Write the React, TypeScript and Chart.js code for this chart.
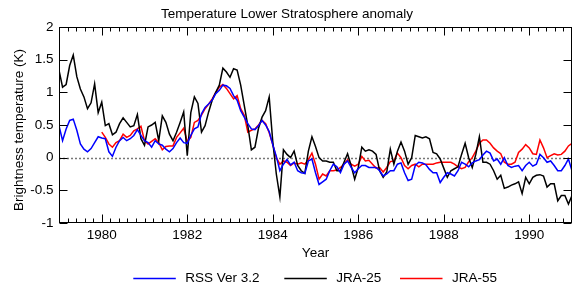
import React, { useEffect, useRef } from 'react';
import { Chart, registerables } from 'chart.js';

Chart.register(...registerables);

// ---------------- data ----------------
const START_YEAR = 1979;
const X_MIN = 1979;
const X_MAX = 1991;
const X_TICK_LABELS = [1980, 1982, 1984, 1986, 1988, 1990];
const X_MINOR_STEP = 0.2;
const Y_TICKS = [-1, -0.5, 0, 0.5, 1, 1.5, 2];

const SERIES_NAMES = ['RSS Ver 3.2', 'JRA-25', 'JRA-55'];
const SERIES_COLORS = ['#0000ff', '#000000', '#ff0000'];

// monthly anomalies, Jan 1979 .. Jan 1991
const rss = [
  0.49, 0.26, 0.44, 0.57, 0.59, 0.42, 0.21, 0.13, 0.09, 0.14,
  0.23, 0.32, 0.30, 0.29, 0.09, 0.02, 0.16, 0.26, 0.31, 0.26,
  0.29, 0.34, 0.43, 0.34, 0.26, 0.23, 0.16, 0.26, 0.21, 0.19,
  0.13, 0.09, 0.14, 0.23, 0.30, 0.23, 0.22, 0.34, 0.44, 0.47,
  0.67, 0.77, 0.82, 0.88, 0.98, 1.03, 1.11, 1.10, 1.06, 0.95,
  0.88, 0.72, 0.62, 0.52, 0.44, 0.43, 0.49, 0.57, 0.50, 0.40,
  0.20, 0.02, -0.20, -0.10, -0.03, -0.11, -0.07, -0.20, -0.23, -0.24,
  -0.05, -0.02, -0.23, -0.41, -0.37, -0.33, -0.20, -0.10, -0.14, -0.23,
  -0.10, -0.05, -0.15, -0.23, -0.17, -0.12, -0.12, -0.15, -0.15, -0.15,
  -0.20, -0.28, -0.25, -0.20, -0.20, -0.10, -0.08, -0.23, -0.35, -0.33,
  -0.12, -0.07, -0.08, -0.11, -0.18, -0.23, -0.23, -0.38, -0.30, -0.23,
  -0.25, -0.28, -0.20, -0.07, -0.10, -0.14, -0.08, -0.05, -0.03, 0.04,
  0.10, 0.07, -0.05, -0.02, -0.10, 0.00, -0.12, -0.15, -0.13, -0.12,
  -0.20, -0.12, -0.07, -0.13, -0.10, 0.05, 0.00, -0.07, -0.05, -0.12,
  -0.20, -0.20, -0.12, -0.02, -0.20,
];

const jra25 = [
  1.34, 1.08, 1.12, 1.41, 1.57, 1.24, 1.05, 0.93, 0.75, 0.84,
  1.13, 0.69, 0.85, 0.49, 0.52, 0.35, 0.39, 0.52, 0.61, 0.54,
  0.47, 0.49, 0.66, 0.29, 0.19, 0.47, 0.50, 0.54, 0.26, 0.64,
  0.54, 0.36, 0.26, 0.39, 0.54, 0.70, 0.03, 0.69, 0.93, 0.83,
  0.39, 0.49, 0.70, 0.88, 1.00, 1.11, 1.37, 1.31, 1.23, 1.36,
  1.34, 1.11, 0.80, 0.49, 0.12, 0.16, 0.45, 0.62, 0.72, 0.93,
  0.25, -0.25, -0.60, 0.12, 0.05, 0.00, 0.10, -0.12, -0.20, -0.24,
  0.10, 0.32, 0.17, 0.00, -0.05, -0.05, -0.07, -0.07, -0.20, -0.20,
  -0.07, 0.06, -0.12, -0.33, -0.15, 0.16, 0.10, 0.12, 0.10, 0.05,
  -0.20, -0.30, -0.22, 0.13, -0.10, 0.10, 0.24, 0.10, -0.10, 0.00,
  0.34, 0.32, 0.30, 0.32, 0.29, 0.08, 0.06, -0.02, -0.16, -0.30,
  -0.20, -0.17, -0.14, 0.05, 0.22, 0.00, -0.15, 0.05, 0.32, -0.07,
  -0.07, -0.10, -0.20, -0.33, -0.27, -0.47, -0.45, -0.42, -0.40, -0.37,
  -0.55, -0.30, -0.40, -0.30, -0.27, -0.26, -0.28, -0.45, -0.40, -0.40,
  -0.66, -0.58, -0.58, -0.71, -0.58,
];

const jra55 = [
  null, null, null, null, null, null, null, null, null, null,
  null, null, 0.39, 0.31, 0.21, 0.16, 0.23, 0.26, 0.36, 0.31,
  0.34, 0.41, 0.44, 0.48, 0.26, 0.21, 0.25, 0.29, 0.23, 0.12,
  0.17, 0.18, 0.18, 0.31, 0.38, 0.45, 0.25, 0.31, 0.54, 0.57,
  0.65, 0.75, 0.82, 0.90, 1.00, 1.08, 1.12, 1.06, 0.98, 0.90,
  0.95, 0.75, 0.65, 0.39, 0.42, 0.44, 0.50, 0.57, 0.52, 0.38,
  0.20, 0.00, -0.10, -0.05, -0.07, -0.12, -0.08, -0.10, -0.08, -0.10,
  -0.03, 0.07, -0.10, -0.33, -0.25, -0.28, -0.20, -0.20, -0.19, -0.15,
  -0.10, -0.03, -0.10, -0.13, -0.10, 0.02, -0.05, -0.04, -0.10, -0.16,
  -0.15, -0.22, -0.15, -0.06, -0.05, 0.07, 0.00, -0.12, -0.17, -0.12,
  -0.10, -0.14, -0.10, -0.10, -0.10, -0.10, -0.08, -0.07, -0.07, -0.07,
  -0.07, -0.10, -0.14, -0.17, -0.15, -0.06, 0.00, 0.10, 0.22, 0.27,
  0.27, 0.22, 0.15, 0.10, 0.06, -0.07, -0.10, -0.10, -0.07, 0.08,
  0.13, 0.20, 0.15, 0.06, 0.05, 0.27, 0.15, 0.00, 0.03, 0.06,
  0.04, 0.05, 0.10, 0.18, 0.22,
];

const monthTimes = rss.map((_, i) => START_YEAR + i / 12);

// ---------------- styling ----------------
const FONT = '"Liberation Sans", Arial, Helvetica, sans-serif';
const FS = 13.5;

const toPoints = (vals: (number | null)[]) =>
  vals.map((v, i) => ({ x: monthTimes[i], y: v }));

const decorPlugin = {
  id: 'decor',
  beforeDatasetsDraw(chart: any) {
    const { ctx, chartArea: a, scales } = chart;
    const y0 = Math.round(scales.y.getPixelForValue(0)) + 0.5;
    ctx.save();
    ctx.strokeStyle = '#777777';
    ctx.lineWidth = 1.5;
    ctx.setLineDash([2, 2]);
    ctx.beginPath();
    ctx.moveTo(a.left, y0);
    ctx.lineTo(a.right, y0);
    ctx.stroke();
    ctx.restore();
  },
  afterDatasetsDraw(chart: any) {
    const { ctx, chartArea: a, scales } = chart;
    const L = a.left + 0.5, R = a.right - 0.5, T = a.top + 0.5, B = a.bottom - 0.5;
    ctx.save();
    ctx.strokeStyle = '#000';
    ctx.lineWidth = 1;
    ctx.setLineDash([]);
    ctx.strokeRect(L, T, R - L, B - T);
    ctx.beginPath();
    const n = Math.round((X_MAX - X_MIN) / X_MINOR_STEP);
    for (let k = 1; k < n; k++) {
      const v = X_MIN + k * X_MINOR_STEP;
      const major = X_TICK_LABELS.some((t) => Math.abs(t - v) < 1e-6);
      const len = major ? 8 : 4;
      const px = Math.round(scales.x.getPixelForValue(v)) + 0.5;
      ctx.moveTo(px, B);
      ctx.lineTo(px, B - len);
      ctx.moveTo(px, T);
      ctx.lineTo(px, T + len);
    }
    Y_TICKS.forEach((v) => {
      const py = Math.round(scales.y.getPixelForValue(v)) + 0.5;
      ctx.moveTo(L, py);
      ctx.lineTo(L + 8, py);
      ctx.moveTo(R, py);
      ctx.lineTo(R - 8, py);
    });
    ctx.stroke();
    ctx.restore();
  },
  afterDraw(chart: any) {
    const { ctx, chartArea: a } = chart;
    ctx.save();
    ctx.fillStyle = '#000';
    ctx.font = `${FS}px ${FONT}`;
    // title
    ctx.textAlign = 'center';
    ctx.textBaseline = 'alphabetic';
    ctx.fillText('Temperature Lower Stratosphere anomaly', 287, 18);
    // x title
    ctx.fillText('Year', (a.left + a.right) / 2, 256.5);
    // y title
    ctx.save();
    ctx.translate(23, 130);
    ctx.rotate(-Math.PI / 2);
    ctx.fillText('Brightness temperature (K)', 0, 0);
    ctx.restore();
    // legend
    const starts = [133.3, 284.3, 400];
    const ly = 278.5;
    chart.data.datasets.forEach((ds: any, i: number) => {
      const x0 = starts[i];
      ctx.strokeStyle = ds.borderColor;
      ctx.lineWidth = 1.5;
      ctx.beginPath();
      ctx.moveTo(x0, ly);
      ctx.lineTo(x0 + 42.5, ly);
      ctx.stroke();
      ctx.textAlign = 'left';
      ctx.textBaseline = 'middle';
      ctx.fillText(ds.label, x0 + 52, ly);
    });
    ctx.restore();
  },
};

export default function App() {
  const ref = useRef<HTMLCanvasElement>(null);
  useEffect(() => {
    document.body.style.margin = '0';
    const seriesVals = [rss, jra25, jra55];
    const chart = new Chart(ref.current as HTMLCanvasElement, {
      type: 'line',
      data: {
        datasets: seriesVals.map((vals, i) => ({
          label: SERIES_NAMES[i],
          data: toPoints(vals as (number | null)[]),
          borderColor: SERIES_COLORS[i],
          backgroundColor: SERIES_COLORS[i],
          borderWidth: 1.5,
          pointRadius: 0,
          tension: 0,
          fill: false,
          spanGaps: false,
        })),
      } as any,
      options: {
        animation: false,
        responsive: false,
        devicePixelRatio: 1,
        parsing: false as any,
        layout: { padding: { left: 0, right: 1, top: 27, bottom: 0 } },
        plugins: {
          legend: { display: false },
          title: { display: false },
          tooltip: { enabled: false },
        },
        scales: {
          x: {
            type: 'linear',
            min: X_MIN,
            max: X_MAX,
            grid: { display: false, drawTicks: false },
            border: { display: false },
            afterBuildTicks: (s: any) => {
              s.ticks = X_TICK_LABELS.map((v) => ({ value: v }));
            },
            afterFit: (s: any) => {
              s.height = 65;
            },
            ticks: {
              autoSkip: false,
              maxRotation: 0,
              padding: 4,
              color: '#000',
              font: { family: FONT, size: FS },
              callback: (v: any) => String(v),
            },
          },
          y: {
            type: 'linear',
            min: -1,
            max: 2,
            grid: { display: false, drawTicks: false },
            border: { display: false },
            afterBuildTicks: (s: any) => {
              s.ticks = Y_TICKS.map((v) => ({ value: v }));
            },
            afterFit: (s: any) => {
              s.width = 59;
            },
            ticks: {
              padding: 5.5,
              color: '#000',
              font: { family: FONT, size: FS },
              callback: (v: any) => String(v),
            },
          },
        },
      } as any,
      plugins: [decorPlugin],
    });
    return () => chart.destroy();
  }, []);
  return (
    <div style={{ position: 'absolute', left: 0, top: 0, width: 573, height: 288, background: '#fff' }}>
      <canvas ref={ref} width={573} height={288} style={{ display: 'block', width: 573, height: 288 }} />
    </div>
  );
}
